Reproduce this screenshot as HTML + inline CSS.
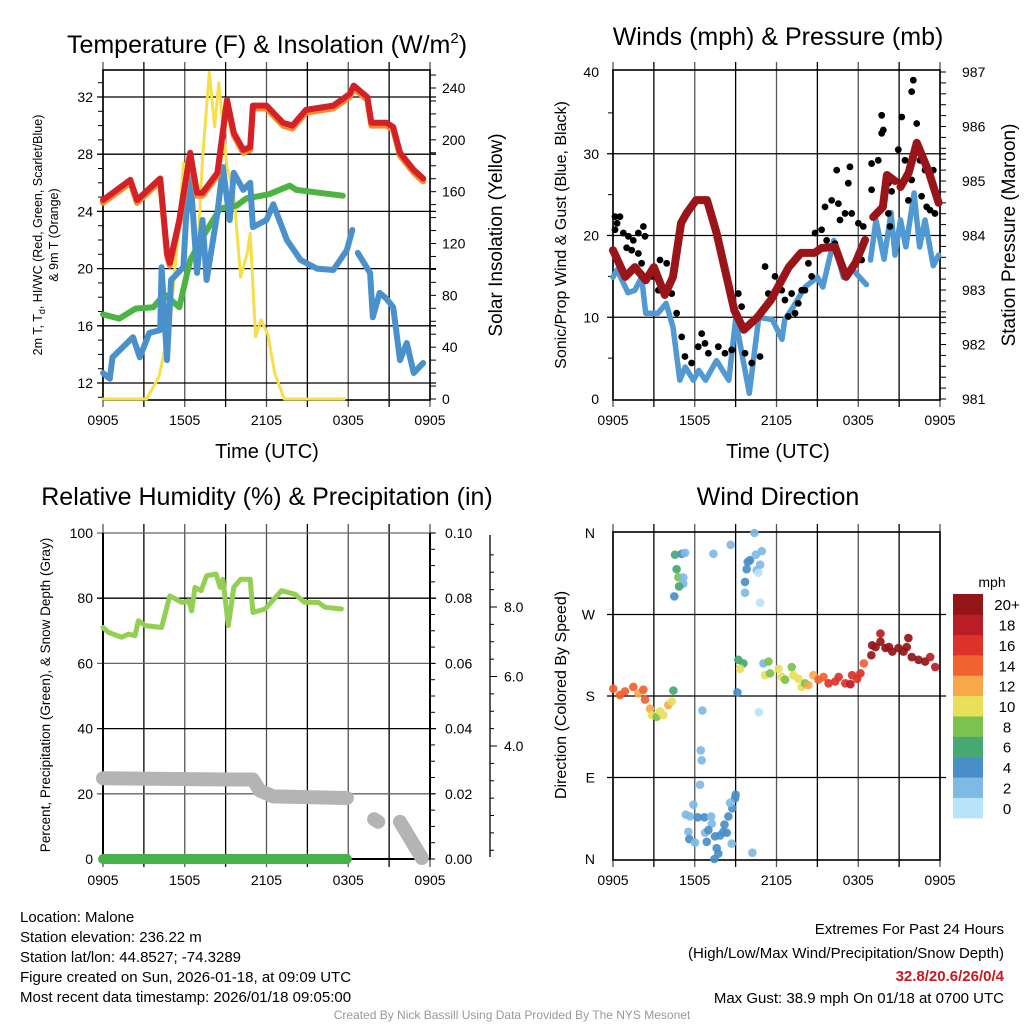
<!DOCTYPE html>
<html><head><meta charset="utf-8"><title>Mesonet Meteogram</title>
<style>
html,body{margin:0;padding:0;background:#fff;}
svg{display:block;font-family:"Liberation Sans",sans-serif;}
</style></head>
<body>
<svg id="chart" width="1024" height="1024" viewBox="0 0 1024 1024" xmlns="http://www.w3.org/2000/svg">
<rect x="0" y="0" width="1024" height="1024" fill="#fff"/>
<text x="267" y="53" font-size="25" text-anchor="middle">Temperature (F) &amp; Insolation (W/m<tspan font-size="15" dy="-10">2</tspan><tspan dy="10">)</tspan></text>
<text x="778" y="45" font-size="25" text-anchor="middle">Winds (mph) &amp; Pressure (mb)</text>
<text x="267" y="505" font-size="25" text-anchor="middle">Relative Humidity (%) &amp; Precipitation (in)</text>
<text x="778" y="505" font-size="25" text-anchor="middle">Wind Direction</text>
<text transform="translate(42,235) rotate(-90)" font-size="12.5" text-anchor="middle">2m T, T<tspan font-size="9" dy="3">d</tspan><tspan dy="-3">, HI/WC (Red, Green, Scarlet/Blue)</tspan></text>
<text transform="translate(58,235) rotate(-90)" font-size="12.5" text-anchor="middle">&amp; 9m T (Orange)</text>
<text transform="translate(502,235) rotate(-90)" font-size="19" text-anchor="middle">Solar Insolation (Yellow)</text>
<text transform="translate(566,235) rotate(-90)" font-size="16" text-anchor="middle">Sonic/Prop Wind &amp; Gust (Blue, Black)</text>
<text transform="translate(1015,235) rotate(-90)" font-size="19" text-anchor="middle">Station Pressure (Maroon)</text>
<text transform="translate(50,695) rotate(-90)" font-size="13.5" text-anchor="middle">Percent, Precipitation (Green), &amp; Snow Depth (Gray)</text>
<text transform="translate(566,695) rotate(-90)" font-size="16" text-anchor="middle">Direction (Colored By Speed)</text>
<text x="267" y="458" font-size="20" text-anchor="middle">Time (UTC)</text>
<text x="778" y="458" font-size="20" text-anchor="middle">Time (UTC)</text>
<g font-size="15">
<text x="20" y="922">Location: Malone</text>
<text x="20" y="942">Station elevation: 236.22 m</text>
<text x="20" y="962">Station lat/lon: 44.8527; -74.3289</text>
<text x="20" y="982">Figure created on Sun, 2026-01-18, at 09:09 UTC</text>
<text x="20" y="1002">Most recent data timestamp: 2026/01/18 09:05:00</text>
</g>
<g font-size="15" text-anchor="end">
<text x="1004" y="934">Extremes For Past 24 Hours</text>
<text x="1004" y="958">(High/Low/Max Wind/Precipitation/Snow Depth)</text>
<text x="1004" y="981" fill="#c8191f" font-weight="bold">32.8/20.6/26/0/4</text>
<text x="1004" y="1003">Max Gust: 38.9 mph On 01/18 at 0700 UTC</text>
</g>
<text x="512" y="1019" font-size="12" fill="#999" text-anchor="middle">Created By Nick Bassill Using Data Provided By The NYS Mesonet</text>
</svg>
<script>
// ===== data =====
const timeTickLabels = ["0905","1505","2105","0305","0905"];
const tempHours = [0,2,2.5,4.2,4.7,4.9,5.6,6.4,6.9,7.3,8.4,9.1,9.6,10.3,10.8,11.0,12.0,13.2,13.9,14.9,16.9,18.1,18.4,19.4,19.7,20.8,21.3,21.8,22.8,23.5];
const tempVals = [24.8,26.2,24.8,26.3,21.1,20.4,23.4,28.1,25.3,25.3,26.7,31.8,29.5,28.3,28.5,31.4,31.4,30.2,30.0,31.1,31.4,32.2,32.8,32.0,30.2,30.2,29.9,28.1,26.9,26.3];
const dewHours = [0,0.5,0.7,2.2,2.7,3.4,4.2,4.3,4.7,5.0,5.9,6.1,6.4,6.9,7.3,7.6,8.4,8.8,9.3,9.6,10.3,10.8,11,12,12.5,13.5,14.5,15.7,16.9,17.9,18.3,null,18.7,19.6,19.8,20.3,20.8,21.3,21.8,22.3,22.8,23.5];
const dewVals = [12.7,12.3,13.8,15.2,13.8,15.5,15.7,20.1,13.6,19.2,20.1,23.6,26.7,19.7,23.4,19.2,23.9,27.1,23.4,26.7,25.5,26.0,22.9,23.4,24.5,22.0,20.6,20.0,19.9,21.3,22.7,null,21.1,19.7,16.6,18.3,17.9,17.3,13.6,14.8,12.7,13.4];
const hiHours = [0,1.2,2.4,3.7,4.5,5.6,6.4,7.5,8.6,9.8,10.5,12.2,13.7,14.2,15.9,17.6];
const hiVals = [16.8,16.5,17.2,17.3,18.2,17.3,20.6,22.5,24.2,24.4,24.9,25.2,25.8,25.5,25.3,25.1];
const solarHours = [0,3.2,4.1,4.9,5.6,5.9,6.3,6.9,7.3,7.8,8.2,8.5,9.1,9.6,10.1,10.6,10.8,11.2,11.6,12.1,12.6,13.3,17.7];
const solarVals = [0,0,17,56,138,182,175,102,185,252,210,244,179,159,94,113,128,48,61,50,20,0,0];
const tempTicks = [12,16,20,24,28,32];
const solarTicks = [0,40,80,120,160,200,240];

const presHours = [0,0.9,1.6,2.4,3.0,3.8,4.4,5.0,5.4,6.1,6.9,7.6,8.9,9.6,10.6,11.6,12.9,13.8,14.8,15.3,16.3,17.1,17.8,18.5,null,19.1,19.8,20.1,20.7,null,21.1,21.7,22.3,23.2,23.9];
const presVals = [983.73,983.24,983.42,983.18,983.42,982.91,983.24,984.23,984.41,984.65,984.65,984.05,982.63,982.27,982.5,982.82,983.42,983.68,983.68,983.77,983.79,983.24,983.5,983.92,null,984.34,984.52,985.11,985.0,null,984.89,985.15,985.7,985.15,984.6];
const windHours = [0,0.3,1.1,1.6,2.1,2.4,3.3,3.9,4.4,4.9,5.3,5.9,6.3,6.8,7.6,8.5,9.0,10.0,10.7,11.7,12.4,12.6,13.2,14.1,15.0,15.4,16.2,16.9,17.6,18.6,null,18.9,19.3,19.9,20.4,20.7,21.1,21.5,22.1,22.5,22.9,23.5,23.9];
const windVals = [14.9,15.8,13.0,13.3,14.9,10.5,10.5,11.7,8.8,2.3,3.9,2.3,3.5,2.3,4.7,2.3,9.7,0.7,10.0,9.7,7.3,9.7,11.2,13.7,14.9,13.7,19.4,14.9,15.8,14.0,null,17.0,21.9,17.1,22.8,17.6,21.9,18.6,25.2,18.6,21.9,16.3,17.6];
const gustHours = [0.15,0.51,0.15,0.76,1.13,1.49,1.86,2.23,2.35,1.37,1.86,2.1,2.84,3.45,3.94,3.33,4.31,4.67,5.04,5.28,5.77,6.26,6.51,6.75,7.0,7.73,8.22,8.71,9.2,9.44,9.69,10.18,10.79,11.16,11.4,11.89,12.38,12.62,13.11,13.36,13.85,14.34,14.83,15.31,15.56,16.05,16.54,16.66,17.03,17.52,18.01,16.42,17.39,17.27,15.68,16.29,14.09,14.58,13.6,12.87,18.98,19.47,19.72,19.84,19.72,20.21,20.45,20.21,18.98,20.33,20.94,21.19,21.43,21.92,22.04,22.29,22.53,22.9,23.51,23.02,23.27,23.63,22.65,21.92,21.68,18.25,18.37,0.3,1.0];
const gustVals = [22.3,22.3,20.7,20.3,19.9,19.4,20.3,21.1,19.9,18.2,17.8,16.6,15.0,17.0,16.6,13.3,12.9,10.5,7.6,5.2,4.4,6.4,8.0,6.8,5.6,6.4,5.6,6.0,12.9,11.3,5.6,4.4,5.2,16.2,12.9,15.0,13.3,12.1,12.9,10.5,13.3,16.6,20.3,20.7,23.5,24.3,23.9,21.9,22.7,22.7,21.5,28.0,28.4,26.4,19.4,19.0,13.3,15.0,11.7,10.1,28.8,29.2,32.5,32.9,34.7,26.4,25.4,22.7,25.6,21.1,30.5,34.5,29.2,37.6,39.0,33.7,29.2,28.0,28.0,23.5,23.1,22.7,24.8,26.8,24.3,17.0,21.1,21.5,18.5];
const windTicks = [0,10,20,30,40];
const presTicks = [981,982,983,984,985,986,987];

const rhHours = [0,0.4,1.37,1.86,2.35,2.6,3.1,4.3,4.9,5.8,6.3,6.5,6.75,7.2,7.6,8.3,8.6,8.8,9.2,9.6,10.1,10.8,11.0,11.9,13.1,14.1,14.8,15.8,16.3,17.5];
const rhVals = [71.0,69.5,68.0,69.0,68.5,73.1,71.6,71.0,80.7,78.7,79.2,76.1,83.3,82.3,86.9,87.4,83.3,85.8,71.6,83.3,85.8,85.8,75.6,76.7,82.3,81.2,78.7,78.7,77.2,76.7];
const precipHours = [0,17.9];
const precipVals = [0,0];
const snowHours = [0,9,11,11.5,12.5,17.9,null,19.9,20.2,null,21.8,23.4];
const snowVals = [24.8,24.4,24.4,21,19.2,18.7,null,12.2,11.4,null,11.4,0.3];
const rhTicks = [0,20,40,60,80,100];
const precipTicks = ["0.00","0.02","0.04","0.06","0.08","0.10"];
const snowTickLabels = ["4.0","6.0","8.0"];

const dirHours = [0.02,0.51,0.88,1.49,1.86,2.23,2.35,2.72,2.84,3.21,3.45,3.69,4.06,4.31,4.43,4.55,5.04,5.29,4.67,4.80,5.16,5.16,4.85,4.50,6.56,6.44,6.51,6.39,5.90,5.34,5.65,6.22,6.71,7.20,7.25,6.76,7.0,5.53,5.60,6.02,6.88,7.49,7.86,8.10,8.35,7.61,7.73,7.44,8.71,10.23,8.47,8.76,8.96,9.0,8.59,8.18,7.37,8.64,10.38,9.69,9.69,9.81,9.89,10.06,10.48,10.92,10.80,10.55,10.67,10.80,9.13,10.70,9.20,9.57,9.33,11.04,11.41,11.16,11.53,12.15,12.39,12.63,13.12,13.24,13.61,13.85,14.10,14.34,14.71,15.08,15.45,15.82,16.31,16.56,17.05,17.43,17.55,17.92,18.16,18.41,19.02,19.27,19.63,19.63,20.0,20.5,20.95,21.32,21.68,21.56,21.93,22.42,22.91,23.28,23.65,18.96,20.25];
const dirVals = [188,181,185,190,183,187,176,166,159,157,163,159,170,174,186,336,337,338,320,311,311,304,301,290,164,120,109,82,60,49,47,46,46,47,39,29,32,30,22,18,19,25,26,30,29,12,6,0,17,7,47,56,67,71,62,38,337,347,360,294,306,320,328,330,336,340,325,319,316,283,184,162,220,216,210,216,218,203,205,210,201,198,212,203,199,190,194,192,203,198,201,194,196,201,194,193,203,199,205,216,236,234,249,240,233,229,233,229,244,234,223,220,218,223,212,225,234];
const dirSpeeds = [14,14,14,14,12,14,14,12,10,8,10,10,12,10,6,6,4,2,6,8,2,2,6,4,2,2,2,2,2,2,2,4,4,2,2,2,4,2,4,2,4,4,4,4,4,4,4,4,2,2,4,4,4,4,2,4,2,2,2,2,4,4,4,4,2,2,2,2,0,0,4,0,6,6,10,2,8,10,8,10,10,8,8,10,10,10,8,12,12,14,14,16,16,16,16,18,16,16,16,14,20,20,18,20,20,20,20,20,20,20,20,20,20,18,18,20,20];
const dirTickLabels = ["N","E","S","W","N"];
const speedLabels = ["0","2","4","6","8","10","12","14","16","18","20+"];
const speedColors = ["#b9e3f8","#7fb9e5","#4a8ec8","#47a872","#7cc24f","#e8e05a","#f8a84a","#f26130","#dc3228","#bb1d26","#931518"];

// ===== drawing =====
const NS = "http://www.w3.org/2000/svg";
const svg = document.getElementById("chart");
function mk(tag, attrs, parent) {
  const e = document.createElementNS(NS, tag);
  for (const k in attrs) e.setAttribute(k, attrs[k]);
  (parent || svg).appendChild(e);
  return e;
}
function lin(d0, d1, r0, r1) { return v => r0 + (v - d0) * (r1 - r0) / (d1 - d0); }
function pathD(xs, ys, fx, fy) {
  let d = "", pen = false;
  for (let i = 0; i < xs.length; i++) {
    if (xs[i] === null || ys[i] === null) { pen = false; continue; }
    d += (pen ? "L" : "M") + fx(xs[i]).toFixed(1) + "," + fy(ys[i]).toFixed(1);
    pen = true;
  }
  return d;
}
function frame(x0, y0, x1, y1, name) {
  const g = mk("g", {});
  
  
  return g;
}
function timeAxis(g, fx, y0, y1) {
  for (let h = 0; h <= 24; h += 3) {
    const x = fx(h);
    const gl = mk("line", {x1: x, y1: y0 - 8, x2: x, y2: y1 + 7, stroke: (h % 6 === 0) ? "#555" : "#000", "stroke-width": 1.3}, g);
    
    
  }
  timeTickLabels.forEach((lab, i) => {
    const t = mk("text", {x: fx(i * 6), y: y1 + 25, "font-size": 14, "text-anchor": "middle"}, g);
    t.textContent = lab;
    
    
  });
}
function box(g, x0, y0, x1, y1) {
  const r = mk("rect", {x: x0, y: y0, width: x1 - x0, height: y1 - y0, fill: "none", stroke: "#000", "stroke-width": 1.6}, g);
  
  
}
function hgrid(g, x0, x1, y, dark) {
  const l = mk("line", {x1: x0 - 6, y1: y, x2: x1 + 6, y2: y, stroke: dark ? "#000" : "#666", "stroke-width": 1.3}, g);
  
  
}
function label(g, x, y, txt, anchor, name, size) {
  const t = mk("text", {x: x, y: y, "font-size": size || 14, "text-anchor": anchor}, g);
  t.textContent = txt;
  
  
  return t;
}
function minor(g, x, ys, len) {
  ys.forEach(y => {
    const l = mk("line", {x1: x, y1: y, x2: x + len, y2: y, stroke: "#000", "stroke-width": 1}, g);
    
    
  });
}
function line(g, xs, ys, fx, fy, color, w, name, cap) {
  const p = mk("path", {d: pathD(xs, ys, fx, fy), fill: "none", stroke: color, "stroke-width": w, "stroke-linejoin": "round", "stroke-linecap": cap || "round"}, g);
  
  
  return p;
}

// Panel 1
(function () {
  const X0 = 103, X1 = 430, Y0 = 70, Y1 = 400;
  const fx = lin(0, 24, X0, X1);
  const fy = lin(12, 32, 383, 97);
  const fs = lin(0, 240, 399, 88);
  const g = frame(X0, Y0, X1, Y1, "temperature-panel");
  timeAxis(g, fx, Y0, Y1);
  tempTicks.forEach(v => { hgrid(g, X0, X1, fy(v), true); label(g, X0 - 10, fy(v) + 5, String(v), "end", "temp-tick-label"); });
  const mt = []; for (let v = 11; v <= 33; v++) if (fy(v) > Y0 && fy(v) < Y1) mt.push(fy(v));
  minor(g, X0 - 5, mt, 5);
  solarTicks.forEach(v => label(g, X1 + 12, fs(v) + 5, String(v), "start", "solar-tick-label"));
  const ms = []; for (let v = 0; v <= 250; v += 10) ms.push(fs(v));
  minor(g, X1, ms, 6);
  box(g, X0, Y0, X1, Y1);
  line(g, solarHours, solarVals, fx, fs, "#f7df4a", 3, "solar-line");
  line(g, hiHours, hiVals, fx, fy, "#4bb443", 6, "hi-wc-line");
  line(g, dewHours, dewVals, fx, fy, "#4a91cb", 6, "dewpoint-line");
  line(g, tempHours, tempVals.map(v => v - 0.2), fx, fy, "#f58a2c", 6, "temp-9m-line");
  line(g, tempHours, tempVals, fx, fy, "#d42027", 6, "temp-2m-line");
})();

// Panel 2
(function () {
  const X0 = 613, X1 = 940, Y0 = 70, Y1 = 400;
  const fx = lin(0, 24, X0, X1);
  const fy = lin(0, 40, 399, 72);
  const fp = lin(981, 987, 399, 72);
  const g = frame(X0, Y0, X1, Y1, "wind-panel");
  timeAxis(g, fx, Y0, Y1);
  windTicks.forEach(v => { if (v > 0 && v < 40) hgrid(g, X0, X1, fy(v), true); label(g, X0 - 14, fy(v) + 5, String(v), "end", "wind-tick-label"); });
  const mw = []; for (let v = 5; v < 40; v += 10) mw.push(fy(v));
  minor(g, X0 - 5, mw, 5);
  presTicks.forEach(v => label(g, X1 + 22, fp(v) + 5, String(v), "start", "pressure-tick-label"));
  const mp = []; for (let v = 981; v <= 987.01; v += 0.2) mp.push(fp(v));
  minor(g, X1, mp, 6);
  box(g, X0, Y0, X1, Y1);
  line(g, windHours, windVals, fx, fy, "#5199d3", 5.5, "wind-speed-line");
  gustHours.forEach((h, i) => {
    const c = mk("circle", {cx: fx(h), cy: fy(gustVals[i]), r: 3.4, fill: "#000"}, g);
    
    
  });
  line(g, presHours, presVals, fx, fp, "#9a1519", 8, "pressure-line");
})();

// Panel 3
(function () {
  const X0 = 103, X1 = 430, Y0 = 532, Y1 = 860;
  const fx = lin(0, 24, X0, X1);
  const fy = lin(0, 100, 859, 533);
  const g = frame(X0, Y0, X1, Y1, "humidity-panel");
  timeAxis(g, fx, Y0, Y1);
  rhTicks.forEach(v => { if (v > 0) hgrid(g, X0, X1, fy(v), v % 40 === 0); label(g, X0 - 10, fy(v) + 5, String(v), "end", "rh-tick-label"); });
  precipTicks.forEach((lab, i) => label(g, X1 + 15, fy(i * 20) + 5, lab, "start", "precip-tick-label"));
  const mp = []; for (let v = 0; v <= 100; v += 5) mp.push(fy(v));
  minor(g, X1, mp, 5);
  const sa = mk("line", {x1: 490, y1: 535, x2: 490, y2: 857, stroke: "#000", "stroke-width": 1.3}, g);
  
  
  const fsn = lin(4, 8, 746, 607);
  snowTickLabels.forEach(lab => {
    const y = fsn(parseFloat(lab));
    minor(g, 490, [y], 7);
    label(g, 504, y + 5, lab, "start", "snow-tick-label");
  });
  const ms = []; for (let v = 1; v <= 11; v += 0.5) { const y = fsn(v); if (y > 540 && y < 855) ms.push(y); }
  minor(g, 490, ms, 4);
  line(g, [0, 24], [0, 0], fx, fy, "#000", 2, "zero-baseline", "butt");
  line(g, [0, 0], [0, 100], fx, fy, "#000", 2, "rh-left-axis", "butt");
  line(g, [24, 24], [0, 100], fx, fy, "#000", 2, "rh-right-axis", "butt");
  line(g, snowHours, snowVals, fx, fy, "#b4b4b4", 14, "snow-depth-line");
  line(g, precipHours, precipVals, fx, fy, "#47b14a", 10, "precip-line");
  line(g, rhHours, rhVals, fx, fy, "#93cf52", 5, "rh-line");
})();

// Panel 4
(function () {
  const X0 = 613, X1 = 940, Y0 = 532, Y1 = 860;
  const fx = lin(0, 24, X0, X1);
  const fy = lin(0, 360, 859, 533);
  const g = frame(X0, Y0, X1, Y1, "direction-panel");
  timeAxis(g, fx, Y0, Y1);
  dirTickLabels.forEach((lab, i) => { if (i > 0 && i < 4) hgrid(g, X0, X1, fy(i * 90), true); label(g, X0 - 18, fy(i * 90) + 5, lab, "end", "direction-tick-label"); });
  box(g, X0, Y0, X1, Y1);
  dirHours.forEach((h, i) => {
    const c = mk("circle", {cx: fx(h), cy: fy(dirVals[i]), r: 4.3, fill: speedColors[Math.min(10, Math.round(dirSpeeds[i] / 2))], "fill-opacity": 0.92}, g);
    
    
  });
  const lg = mk("g", {}, g);
  
  
  label(lg, 992, 587, "mph", "middle", "colorbar-title");
  const n = speedColors.length, top = 594, bot = 818, h = (bot - top) / n;
  speedColors.forEach((c, i) => {
    const y = bot - (i + 1) * h;
    const r = mk("rect", {x: 953, y: y, width: 30, height: h + 0.3, fill: c}, lg);
    
    
    label(lg, 1007, y + h / 2 + 6, speedLabels[i], "middle", "colorbar-label", 15);
  });
})();
</script>
</body></html>
